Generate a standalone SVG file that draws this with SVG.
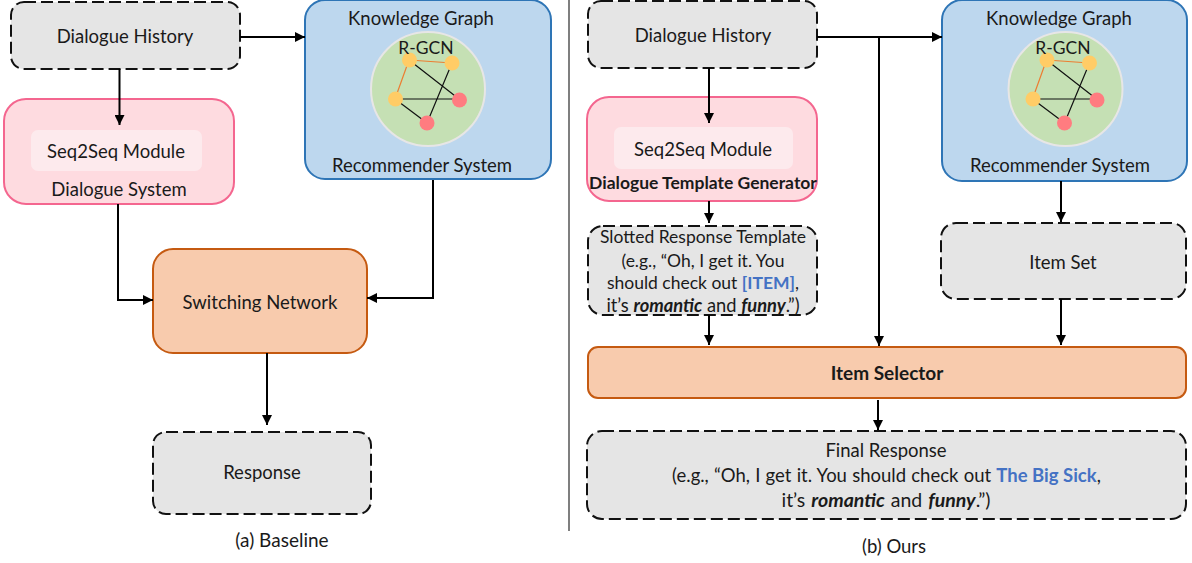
<svg xmlns="http://www.w3.org/2000/svg" width="1192" height="563" viewBox="0 0 1192 563">
<style>
text{font-family:"Lato","Open Sans","Liberation Sans",sans-serif;font-size:18.500px;fill:#1a1a1a;text-anchor:middle}
.s{font-size:17.500px}
.dash{fill:#e5e5e5;stroke:#111;stroke-width:2;stroke-dasharray:12 5}
.pink{fill:#fedbe0;stroke:#f4668f;stroke-width:2}
.inner{fill:#fdeaed}
.blue{fill:#bdd7ee;stroke:#2e75b6;stroke-width:2}
.orange{fill:#f8cbad;stroke:#c55a11;stroke-width:2}
.ball{fill:#c5e0b4;stroke:#e7e6e6;stroke-width:2}
.y{fill:#ffcc66}.r{fill:#ff7c80}
.eo{stroke:#ed7d31;stroke-width:1.200;fill:none}.ek{stroke:#111;stroke-width:1.200;fill:none}
.c{fill:none;stroke:#000;stroke-width:2;marker-end:url(#a)}
.div{fill:none;stroke:#555;stroke-width:1.500}
.b{font-weight:700}.bi{font-weight:700;font-style:italic}.link{fill:#4472c4;font-weight:700}
</style>
<defs>
<marker id="a" markerUnits="userSpaceOnUse" markerWidth="10" markerHeight="10" refX="10" refY="5" orient="auto"><path d="M0 0L10 5L0 10Z" fill="#000"/></marker>
<g id="net">
<circle class="ball" cx="428" cy="89" r="57"/>
<path class="eo" d="M409 60L452 63M409 60L395 99"/>
<path class="ek" d="M409 60L459 99M452 63L427 123M395 99L459 99M395 99L427 123"/>
<circle class="y" cx="409.500" cy="60" r="7.500"/><circle class="y" cx="452" cy="63" r="7.500"/><circle class="y" cx="395.500" cy="99" r="7.500"/>
<circle class="r" cx="459.500" cy="100" r="7.500"/><circle class="r" cx="427" cy="123" r="7.500"/>
</g>
</defs>
<path id="divider" class="div" d="M569 0V531"/>
<g id="a-history"><rect class="dash" x="11" y="2" width="229" height="67" rx="13"/><text x="125" y="43">Dialogue History</text></g>
<g id="a-dialogue"><rect class="pink" x="4" y="99" width="230" height="105" rx="22"/><rect class="inner" x="31" y="130" width="171" height="41" rx="7"/><text x="116" y="158">Seq2Seq Module</text><text x="119" y="196">Dialogue System</text></g>
<g id="a-recommender"><rect class="blue" x="305" y="0" width="246" height="179" rx="20"/><text x="421" y="25">Knowledge Graph</text><use href="#net"/><text class="s" x="426" y="54">R-GCN</text><text x="422" y="172">Recommender System</text></g>
<g id="a-switch"><rect class="orange" x="153" y="249" width="214" height="104" rx="20"/><text x="260" y="309">Switching Network</text></g>
<g id="a-response"><rect class="dash" x="153" y="432" width="218" height="82" rx="13"/><text x="262" y="479">Response</text></g>
<text id="a-caption" x="282" y="547" style="font-size:19px">(a) Baseline</text>
<g id="b-history"><rect class="dash" x="588" y="1" width="229" height="67" rx="13"/><text x="703" y="42">Dialogue History</text></g>
<g id="b-generator"><rect class="pink" x="587" y="97" width="230" height="104" rx="22"/><rect class="inner" x="614" y="127" width="179" height="42" rx="7"/><text x="703" y="156">Seq2Seq Module</text><text class="b s" x="703" y="189">Dialogue Template Generator</text></g>
<g id="b-recommender"><rect class="blue" x="942" y="0" width="245" height="181" rx="20"/><text x="1059" y="25">Knowledge Graph</text><use href="#net" x="637.500"/><text class="s" x="1063" y="54">R-GCN</text><text x="1060" y="172">Recommender System</text></g>
<g id="b-slotted"><rect class="dash" x="588" y="226" width="229" height="89" rx="15"/>
<text class="s" x="703" y="243">Slotted Response Template</text>
<text class="s" x="703" y="267">(e.g., “Oh, I get it. You</text>
<text class="s" x="703" y="289">should check out <tspan class="link">[ITEM]</tspan>,</text>
<text x="703" y="312" style="font-size:18.300px">it’s <tspan class="bi">romantic</tspan> and <tspan class="bi">funny</tspan>.”)</text></g>
<g id="b-itemset"><rect class="dash" x="941" y="223" width="245" height="76" rx="15"/><text x="1063" y="269">Item Set</text></g>
<g id="b-selector"><rect class="orange" x="588" y="347" width="598" height="51" rx="10"/><text class="b" x="887" y="380" style="font-size:19px">Item Selector</text></g>
<g id="b-final"><rect class="dash" x="587" y="431" width="599" height="88" rx="15"/>
<text x="886" y="457">Final Response</text>
<text x="886.500" y="482" style="word-spacing:0.500px">(e.g., “Oh, I get it. You should check out <tspan class="link" style="word-spacing:0">The Big Sick</tspan>,</text>
<text x="886" y="507" style="font-size:19.500px;word-spacing:1px">it’s <tspan class="bi">romantic</tspan> and <tspan class="bi">funny</tspan>.”)</text></g>
<text id="b-caption" x="894" y="553">(b) Ours</text>
<g id="connectors">
<path class="c" d="M119.500 69V125"/>
<path class="c" d="M240 37H305"/>
<path class="c" d="M118 204V300H153"/>
<path class="c" d="M433 180V298H367"/>
<path class="c" d="M267 353V425"/>
<path class="c" d="M709 68V123"/>
<path class="c" d="M817 37H942"/>
<path class="c" d="M879 37V346"/>
<path class="c" d="M709 201V223"/>
<path class="c" d="M709 315V345"/>
<path class="c" d="M1061 181V222"/>
<path class="c" d="M1061 299V345"/>
<path class="c" d="M878 400V430"/>
</g>
</svg>
